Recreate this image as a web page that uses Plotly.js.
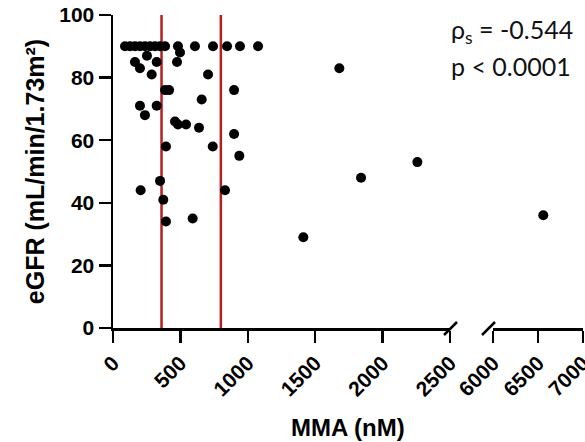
<!DOCTYPE html>
<html>
<head>
<meta charset="utf-8">
<script src="https://cdn.plot.ly/plotly-3.0.1.min.js"></script>
<style>html,body{margin:0;padding:0;background:#fff;}</style>
</head>
<body>
<div id="chart" style="width:585px;height:442px;"></div>
<script>
// MMA (nM) values and matching eGFR values
const mma = [89,126,163,200,237,275,312,349,386,482,608,742,846,942,1076,
  497,163,200,252,324,475,287,705,386,416,898,658,200,237,324,460,482,542,638,898,
  393,740,937,349,205,373,393,591,831,1412,1679,1840,2258,6559];
const egfr = [90,90,90,90,90,90,90,90,90,90,90,90,90,90,90,
  88,85,83,87,85,85,81,81,76,76,76,73,71,68,71,66,65,65,64,62,
  58,58,55,47,44,41,34,35,44,29,83,48,53,36];
const cutoffs = [360, 800];
const xTicksLow = [0,500,1000,1500,2000,2500];
const xTicksHigh = [6000,6500,7000];
const yTicks = [0,20,40,60,80,100];
const breakLow = 2500, breakHigh = 6000, highMax = 7000;

const lowX = [], lowY = [], highX = [], highY = [];
mma.forEach((v, i) => {
  if (v <= breakLow) { lowX.push(v); lowY.push(egfr[i]); }
  else { highX.push(v); highY.push(egfr[i]); }
});

const red = '#b3201f';
const traces = cutoffs.map(c => ({
  x: [c, c], y: [yTicks[0], yTicks[yTicks.length-1]], mode: 'lines', xaxis: 'x', yaxis: 'y',
  line: {color: red, width: 2.5}, hoverinfo: 'skip', showlegend: false
}));
traces.push({x: lowX, y: lowY, mode: 'markers', xaxis: 'x', yaxis: 'y',
  marker: {color: '#000', size: 10}, showlegend: false, cliponaxis: false});
traces.push({x: highX, y: highY, mode: 'markers', xaxis: 'x2', yaxis: 'y',
  marker: {color: '#000', size: 10}, showlegend: false, cliponaxis: false});

const fam = 'Arial, "Liberation Sans", sans-serif';
const tickFont = {family: fam, size: 21, color: '#000', weight: 700};
const axisCommon = {
  showline: true, linecolor: '#000', linewidth: 2.5, ticks: 'outside', ticklen: 12,
  tickwidth: 2.5, tickcolor: '#000', showgrid: false, zeroline: false, tickfont: tickFont,
  ticklabeloverflow: 'allow'
};
const L = 113, R = 2, T = 15, B = 114, W = 585, H = 442;
const pw = W - L - R, ph = H - T - B;
const px = v => (v - L) / pw, py = v => (H - B - v) / ph;

const layout = {
  width: W, height: H, margin: {l: L, r: R, t: T, b: B},
  paper_bgcolor: '#fff', plot_bgcolor: '#fff', showlegend: false,
  xaxis: Object.assign({}, axisCommon, {domain: [0, px(450)], range: [0, breakLow],
    tickvals: xTicksLow, tickangle: -45, anchor: 'y'}),
  xaxis2: Object.assign({}, axisCommon, {domain: [px(493), 1], range: [breakHigh, highMax + 0.5],
    tickvals: xTicksHigh, tickangle: -45, anchor: 'y'}),
  yaxis: Object.assign({}, axisCommon, {range: [0, 100], tickvals: yTicks,
    title: {text: 'eGFR (mL/min/1.73m²)', standoff: 8,
      font: {family: fam, size: 25, color: '#000', weight: 700}}}),
  annotations: [
    {text: 'MMA (nM)', xref: 'paper', yref: 'paper', x: 0.5, y: py(427), xanchor: 'center', yanchor: 'middle',
      showarrow: false, font: {family: fam, size: 24, color: '#000', weight: 700}},
    {text: 'ρ<sub>s</sub> = -0.544', xref: 'paper', yref: 'paper', x: px(449), y: py(31), xanchor: 'left', yanchor: 'middle',
      showarrow: false, font: {family: 'Lato, sans-serif', size: 25, color: '#111'}},
    {text: 'p < 0.0001', xref: 'paper', yref: 'paper', x: px(449), y: py(66), xanchor: 'left', yanchor: 'middle',
      showarrow: false, font: {family: 'Lato, sans-serif', size: 25, color: '#111'}}
  ],
  shapes: [
    {type: 'line', xref: 'paper', yref: 'paper', x0: px(444), y0: py(335), x1: px(457), y1: py(322), line: {color: '#000', width: 2.5}},
    {type: 'line', xref: 'paper', yref: 'paper', x0: px(482), y0: py(335), x1: px(495), y1: py(322), line: {color: '#000', width: 2.5}}
  ]
};
Plotly.newPlot('chart', traces, layout, {displayModeBar: false, staticPlot: true});
</script>
</body>
</html>
